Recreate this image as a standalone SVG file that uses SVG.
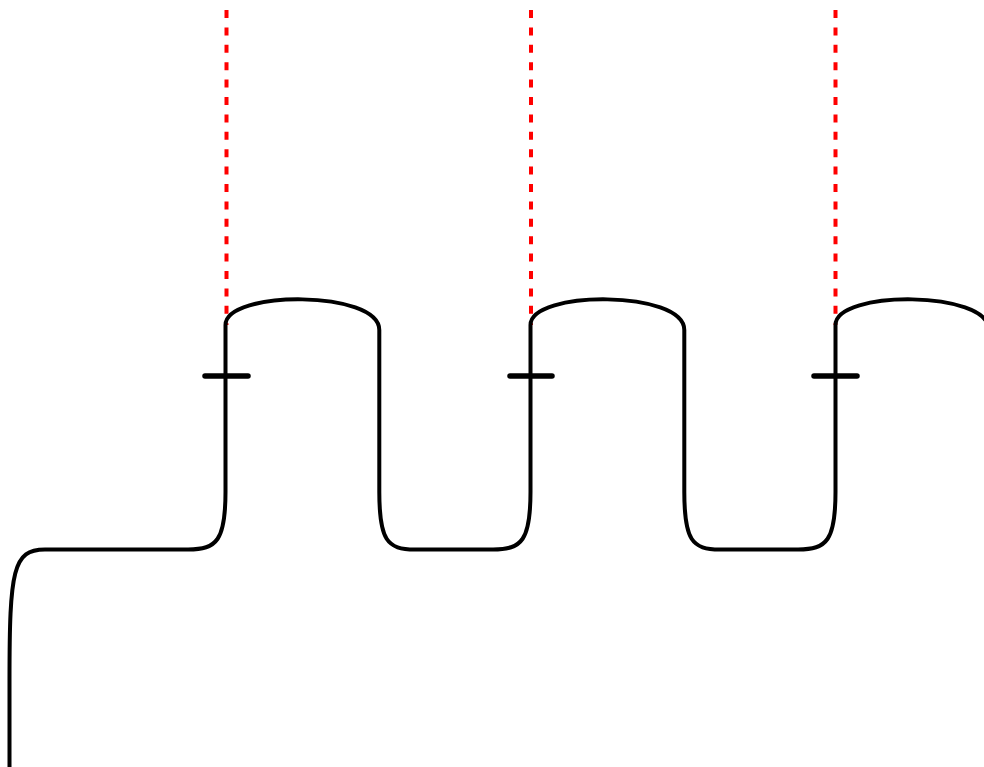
<svg xmlns="http://www.w3.org/2000/svg" width="984" height="767" viewBox="0 0 984 767">
<style>
.wave{fill:none;stroke:#000;stroke-width:4;stroke-linejoin:round}
.guide{fill:none;stroke:#ff0000;stroke-width:4;stroke-dasharray:8 9.4}
.tick{fill:none;stroke:#000;stroke-width:5.5;stroke-linecap:round}
</style>
<rect width="984" height="767" fill="#fff"/>
<g id="guides">
<line class="guide" x1="226.5" y1="10" x2="226.5" y2="325"/>
<line class="guide" x1="531" y1="10" x2="531" y2="325"/>
<line class="guide" x1="835.5" y1="10" x2="835.5" y2="325"/>
</g>
<g id="wave">
<path class="wave" d="M9.5,767 L9.5,680 C9.5,570 13,549.5 45,549.5 L188,549.5 C217,549.5 225.5,540 225.5,492 L225.5,325 C225.5,290 379.3,290 379.3,330 L379.3,492 C379.3,540 387,549.5 415,549.5 L493,549.5 C522,549.5 530.5,540 530.5,492 L530.5,325 C530.5,290 684.3,290 684.3,330 L684.3,492 C684.3,540 692,549.5 720,549.5 L798,549.5 C827,549.5 835.5,540 835.5,492 L835.5,325 C835.5,290 989,290 989,330 L989,400"/>
</g>
<g id="ticks">
<line class="tick" x1="205" y1="376" x2="248" y2="376"/>
<line class="tick" x1="510" y1="376" x2="552" y2="376"/>
<line class="tick" x1="814" y1="376" x2="857" y2="376"/>
</g>
</svg>
